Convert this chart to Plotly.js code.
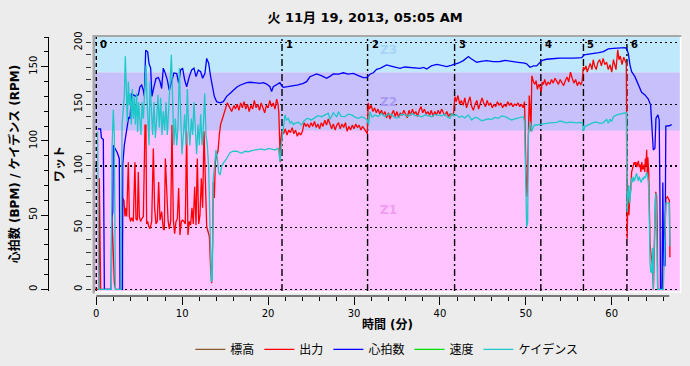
<!DOCTYPE html>
<html>
<head>
<meta charset="utf-8">
<script src="https://cdn.plot.ly/plotly-3.0.1.min.js"></script>
<style>html,body{margin:0;padding:0;background:#ececec;}#chart{width:690px;height:366px;}</style>
</head>
<body>
<div id="chart"></div>
<script>
// ---------- DATA ----------
const chartTitle = '火 11月 19, 2013, 05:05 AM';
const seriesNames = ['標高', '出力', '心拍数', '速度', 'ケイデンス'];
const seriesColors = ['#8b5a2b', '#ff0000', '#0000ff', '#00e000', '#1ec8c8'];

// Power (watts)
const powerTime = [0,0.3,0.35,0.45,0.51,1.75,1.79,1.98,2.1,2.25,3.0,3.07,3.22,3.34,3.46,3.54,3.73,3.85,4.0,4.12,4.31,4.5,4.62,4.78,4.89,5.01,5.16,5.28,5.48,5.67,5.78,5.86,5.98,6.1,6.25,6.45,6.64,6.79,6.95,7.1,7.26,7.42,7.61,7.8,7.92,8.04,8.19,8.35,8.5,8.66,8.81,8.97,9.12,9.28,9.43,9.59,9.74,9.9,10.05,10.21,10.36,10.52,10.67,10.83,10.98,11.14,11.29,11.45,11.61,11.76,11.92,12.07,12.23,12.38,12.54,12.69,12.85,13.0,13.16,13.31,13.43,13.55,13.62,13.74,13.86,14.01,14.17,14.32,14.48,14.63,14.79,15.02,15.25,15.48,15.76,16.03,16.2,16.4,16.6,16.8,17.0,17.2,17.4,17.6,17.8,18.0,18.2,18.4,18.6,18.8,19.0,19.2,19.4,19.6,19.8,20.0,20.2,20.4,20.6,20.8,21.0,21.15,21.25,21.35,21.42,21.5,21.6,21.8,22.0,22.2,22.4,22.6,22.8,23.0,23.2,23.4,23.6,23.8,24.0,24.2,24.4,24.6,24.8,25.0,25.2,25.4,25.6,25.8,26.0,26.2,26.4,26.6,26.8,27.0,27.2,27.4,27.6,27.8,28.0,28.2,28.4,28.6,28.8,29.0,29.2,29.4,29.6,29.8,30.0,30.2,30.4,30.6,30.8,31.0,31.2,31.4,31.55,31.65,31.8,32.0,32.2,32.4,32.6,32.8,33.0,33.2,33.4,33.6,33.8,34.0,34.2,34.4,34.6,34.8,35.0,35.2,35.4,35.6,35.8,36.0,36.2,36.4,36.6,36.8,37.0,37.2,37.4,37.6,37.8,38.0,38.2,38.4,38.6,38.8,39.0,39.2,39.4,39.6,39.8,40.0,40.2,40.4,40.6,40.8,41.0,41.2,41.4,41.6,41.75,41.9,42.1,42.3,42.5,42.7,42.9,43.1,43.3,43.5,43.7,43.9,44.1,44.3,44.5,44.7,44.9,45.1,45.3,45.5,45.7,45.9,46.1,46.3,46.5,46.7,46.9,47.1,47.3,47.5,47.7,47.9,48.1,48.3,48.5,48.7,48.9,49.1,49.3,49.5,49.7,49.85,49.95,50.05,50.15,50.22,50.3,50.4,50.5,50.6,50.7,50.8,50.9,51.05,51.2,51.35,51.5,51.65,51.8,51.9,52.05,52.2,52.4,52.6,52.8,53.0,53.2,53.4,53.6,53.8,54.0,54.2,54.4,54.6,54.8,55.0,55.2,55.4,55.6,55.8,56.0,56.2,56.4,56.55,56.7,56.85,57.0,57.15,57.3,57.5,57.7,57.85,58.0,58.2,58.4,58.6,58.8,59.0,59.2,59.4,59.6,59.8,60.0,60.2,60.35,60.5,60.7,60.85,61.0,61.2,61.4,61.55,61.7,61.75,61.8,61.9,62.0,62.1,62.2,62.32,62.45,62.52,62.62,62.71,62.82,62.91,63.0,63.1,63.2,63.3,63.4,63.5,63.61,63.7,63.76,63.85,63.92,64.0,64.07,64.14,64.2,64.31,64.38,64.46,64.55,64.65,64.77,64.85,64.95,65.04,65.12,65.23,65.31,65.35,65.93,66.01,66.1,66.2,66.32,66.48,66.6,66.71,66.78];
const powerWatts = [0,0,90,44,0,0,65,30,5,0,0,74,72,59,66,59,103,59,55,58,55,103,57,56,95,59,55,57,59,133,133,53,55,51,49,55,114,66,53,55,87,56,63,49,48,106,87,56,49,55,133,56,45,55,57,82,44,55,56,55,53,128,44,55,52,66,53,83,52,106,53,60,90,66,128,90,51,47,43,17,5,39,87,74,103,109,112,125,134,137,141,145,151,148,144,149,146,150,145,151,147,152,146,150,144,149,146,153,147,150,145,151,146,143,149,147,153,148,151,146,154,150,143,120,103,122,128,126,130,125,129,127,131,126,129,124,127,125,128,135,132,134,131,135,132,136,131,134,130,135,132,137,133,138,133,130,134,129,133,135,130,134,131,135,128,132,129,133,130,134,131,133,129,132,130,127,126,151,146,149,144,147,143,146,142,145,141,144,139,143,138,142,145,140,144,139,143,141,145,142,139,145,141,146,142,144,140,145,148,143,146,142,144,141,145,140,144,141,145,142,146,143,141,144,140,142,141,143,156,152,157,150,153,149,155,147,152,156,148,145,150,153,146,150,155,151,148,153,149,151,147,150,148,152,149,151,147,150,148,152,149,151,148,150,149,151,148,150,147,152,114,85,75,100,152,157,145,128,173,170,168,166,169,162,166,164,160,168,166,170,165,168,166,170,167,171,169,166,170,168,165,169,172,168,176,171,167,170,165,168,166,168,180,178,181,176,179,183,178,186,181,178,184,186,181,187,182,184,178,182,176,186,182,178,194,186,189,182,188,186,183,120,41,84,60,74,80,95,98,99,103,101,103,99,101,104,99,101,95,103,97,100,101,95,106,100,113,93,107,95,43,37,30,26,18,0,30,64,79,76,48,0,0,48,40,51,74,75,73,72,26];

// Heart rate (bpm)
const hrTime = [0.2,0.5,0.6,0.82,0.94,1.75,1.8,1.92,1.98,2.2,2.45,2.68,2.76,3.05,3.08,3.26,3.54,3.77,3.92,4.12,4.31,4.62,4.89,5.09,5.28,5.48,5.59,5.75,5.98,6.14,6.33,6.48,6.72,6.95,7.22,7.42,7.61,7.8,8.04,8.27,8.5,8.77,9.04,9.36,9.59,9.82,10.05,10.29,10.52,10.83,11.1,11.37,11.61,11.88,12.15,12.38,12.65,12.85,13.08,13.31,13.54,13.74,14.01,14.4,14.79,15.18,15.56,15.95,16.34,16.73,17.12,17.5,17.9,18.5,19.05,19.45,19.83,20.22,20.41,20.6,21.0,21.38,21.6,21.77,22.3,22.94,23.5,24.1,24.48,24.87,25.25,25.65,26.2,26.81,27.2,27.59,28.2,28.76,29.3,29.92,30.5,31.08,31.47,31.86,32.25,32.64,33.03,33.4,33.8,34.2,34.58,35.0,35.36,35.9,36.52,37.1,37.69,38.1,38.46,39.0,39.63,40.2,40.79,41.3,41.76,42.2,42.73,43.0,43.32,43.6,43.9,44.29,44.8,45.45,46.2,47.0,47.6,48.17,48.8,49.33,49.7,50.1,50.49,50.9,51.27,51.6,51.85,52.4,52.82,53.4,53.99,54.8,55.54,56.1,56.51,56.78,57.3,57.87,58.5,59.03,59.6,60.19,60.9,61.55,61.75,61.93,62.13,62.32,62.7,63.1,63.48,63.87,64.26,64.53,64.69,64.84,65.03,65.15,65.38,65.53,65.62,65.68,65.85,65.95,66.05,66.2,66.3,66.7,66.98];
const hrBpm = [108,108,102,101,0,0,48,52,97,95,92,88,0,0,84,97,106,116,115,132,131,130,131,136.5,137.6,134,130,161,160,152,149,130,136.5,142,142.7,140,135.3,149,145.5,141,134,140,145.8,145.4,139,147.8,149,141,136.5,143.3,147.8,149,143.3,147.8,146.6,142.2,145.5,155.6,152.3,143.3,135.3,130,126.4,125.7,126.4,130,132,134.2,136.1,137.5,138.3,139.3,139.5,139,138.8,139.3,138.3,136.5,133.2,136.5,138,139.2,137,136.1,136.5,137,137.8,138.8,139.9,143.2,144,145.1,144,142.2,143.5,145.1,145,145.9,145,145.5,144,142.6,142.6,144.9,145.9,148.2,148.9,150,151.2,150.6,150.1,149.5,148.9,149.8,149.6,149,148.9,149.5,148.4,150.5,151.6,150.8,150.1,150.8,151.6,152.5,154.1,155.5,156.8,155.5,154.6,153,153.6,154.1,153.4,153.5,154.2,153.9,153.2,152.8,152.5,151.9,149.6,150.5,150.5,152.5,154.1,155,155,155.5,155.7,155.5,155.7,156,156.1,157.9,158.2,158.6,159.4,160.2,162,162.4,162.5,162.9,162,159,151.1,146.6,143.3,137.7,132.7,131,128.2,124.1,110.7,93.9,95,115.2,117.5,114.1,60,0,0,72,16,16,110,110.2,111];

// Cadence (rpm)
const cadTime = [0.04,0.16,0.28,1.75,1.83,1.98,2.1,2.22,2.88,3.0,3.15,3.27,3.38,3.5,3.61,3.73,3.85,3.96,4.08,4.19,4.31,4.43,4.55,4.7,4.81,4.93,5.09,5.2,5.32,5.48,5.63,5.79,5.9,6.02,6.14,6.25,6.41,6.56,6.72,6.88,7.03,7.18,7.34,7.49,7.65,7.8,7.96,8.11,8.27,8.43,8.58,8.74,8.89,9.04,9.2,9.36,9.51,9.67,9.82,9.98,10.13,10.29,10.44,10.6,10.75,10.9,11.06,11.22,11.37,11.53,11.68,11.84,12.0,12.15,12.31,12.46,12.62,12.77,12.93,13.08,13.24,13.39,13.51,13.62,13.78,13.93,14.09,14.24,14.4,14.6,14.79,15.18,15.56,15.95,16.34,16.92,17.3,17.7,18.1,18.47,18.9,19.25,19.6,20.02,20.4,20.8,21.19,21.39,21.58,21.77,21.97,22.15,22.35,22.55,22.74,22.95,23.13,23.5,23.91,24.1,24.3,24.5,24.68,25.0,25.46,25.8,26.24,26.6,27.01,27.2,27.4,27.6,27.79,28.0,28.18,28.5,28.95,29.3,29.73,30.1,30.51,30.9,31.28,31.55,31.7,31.86,32.1,32.44,32.8,33.22,33.61,34.0,34.38,34.8,35.16,35.5,35.94,36.3,36.71,37.1,37.49,37.9,38.27,38.65,39.04,39.4,39.82,40.2,40.59,40.9,41.18,41.37,41.6,41.95,42.25,42.53,42.9,43.31,43.7,44.1,44.47,44.85,45.25,45.6,46.03,46.4,46.8,47.2,47.58,48.0,48.35,48.75,49.13,49.5,49.71,49.85,49.98,50.1,50.22,50.29,50.49,50.68,50.88,51.07,51.27,51.65,51.9,52.4,52.8,53.2,53.6,54.0,54.4,54.76,55.15,55.5,55.92,56.31,56.6,56.7,56.89,57.2,57.47,57.9,58.25,58.64,59.0,59.41,59.6,59.8,60.0,60.19,60.58,60.97,61.36,61.55,61.7,61.75,61.8,61.9,62.0,62.1,62.21,62.32,62.45,62.52,62.62,62.71,62.82,62.91,63.0,63.1,63.2,63.3,63.4,63.49,63.6,63.68,63.8,63.92,64.07,64.15,64.27,64.35,64.38,64.46,64.55,64.65,64.72,64.77,64.85,64.96,65.05,65.16,65.23,65.3,65.35,66.01,66.09,66.2,66.32,66.5,66.71,66.78];
const cadRpm = [106,106,0,0,95,121,104,0,0,111,122,131,157,138,113,140,124,132,111,135,115,130,111,132,106,126,111,104,126,115,133,151,129,113,97,140,118,104,126,102,115,131,109,129,104,120,107,126,104,118,138,158,126,97,115,97,109,149,118,91,104,118,97,135,109,97,115,104,126,104,91,111,97,118,97,109,132,104,97,82,46,5,7,75,84,94,88,79,77,83,85,88,92,93,93,91.6,93,92.7,93.5,93.8,94.2,94.6,93.8,95,94.5,93.9,95,86,99.5,110.7,117.5,114,115.2,112,113,111,111.8,112.5,110.7,113,114.1,115,115.2,114,115.7,117,116.3,117.5,118.6,114.5,116.3,119,117.5,116,119.7,116.5,116.3,118,117.5,116,115.2,116.3,115.2,114.1,111,119.7,116,117.5,116.5,118.6,116.3,118.2,117.5,115.5,115.7,118,117.5,116.5,118.6,117,117,116.2,117.5,116.8,116.3,117.8,117.5,116.9,118,116,115.2,118.6,117,117.5,115.8,116.8,115.5,117.5,114.1,116,115.2,113.6,114.1,114.8,114.5,115.8,115.2,116.8,116.3,115,114.1,114.8,115.2,115.6,116.3,113,81.5,42.2,45,104,113,106.3,109.6,110.7,110.7,111.2,111.5,111.8,112.2,112.2,112.5,113.4,112.5,112.2,112.6,112.2,112.1,112.5,112,106.6,109.7,110.6,111.2,112.5,112.7,111.8,112.2,114.5,111.8,114.6,113,116.3,117.5,118,118.6,119,119,80,52,62,70,58,66,75,72,76,73,74,77,78,75,73,76,74,72,73,75,74,76,75,79,77,72,60,35,18,12,11,20,28,0,53,58,65,40,10,0,0,13,42,58,58,58,29];

// Laps (minutes) and heart-rate zones (bpm)
const lapTimes = [0, 21.62, 31.58, 41.71, 51.75, 56.71, 61.77];
const lapLabels = ['0', '1', '2', '3', '4', '5', '6'];
const zoneNames = ['Z1', 'Z2', 'Z3'];
const zoneLow = [0, 107, 146];
const zoneHigh = [107, 146, 176];
const zoneFill = ['#ffc4ff', '#c8c0fa', '#c0e8fc'];
const zoneText = ['#f09cf0', '#a899f2', '#a6d4f5'];

// ---------- CHART ----------
const FONT = 'DejaVu Sans, Noto Sans CJK JP, sans-serif';
const LW = 1.3;
const traces = [
  {name: seriesNames[0], x: [null], y: [null], type: 'scatter', mode: 'lines', line: {color: seriesColors[0], width: LW}, yaxis: 'y'},
  {name: seriesNames[1], x: powerTime, y: powerWatts, type: 'scatter', mode: 'lines', line: {color: seriesColors[1], width: LW}, yaxis: 'y'},
  {name: seriesNames[2], x: hrTime, y: hrBpm, type: 'scatter', mode: 'lines', line: {color: seriesColors[2], width: LW}, yaxis: 'y2'},
  {name: seriesNames[3], x: [null], y: [null], type: 'scatter', mode: 'lines', line: {color: seriesColors[3], width: LW}, yaxis: 'y2'},
  {name: seriesNames[4], x: cadTime, y: cadRpm, type: 'scatter', mode: 'lines', line: {color: seriesColors[4], width: LW}, yaxis: 'y2'}
];

const shapes = [];
const annotations = [];
for (let i = 0; i < zoneNames.length; i++) {
  shapes.push({type: 'rect', xref: 'x domain', yref: 'y2', x0: 0, x1: 1, y0: zoneLow[i], y1: Math.min(zoneHigh[i], 170), fillcolor: zoneFill[i], line: {width: 0}, layer: 'below'});
  annotations.push({xref: 'x', yref: 'y2', x: 34, y: (zoneLow[i] + zoneHigh[i]) / 2, text: '<b>' + zoneNames[i] + '</b>', showarrow: false, font: {family: FONT, size: 12, color: zoneText[i]}});
}
for (let i = 0; i < lapTimes.length; i++) {
  shapes.push({type: 'line', xref: 'x', yref: 'y domain', x0: lapTimes[i], x1: lapTimes[i], y0: 0, y1: 1, line: {color: '#000', width: 1.4, dash: i === 0 ? '4px,3px' : '7px,3px,2px,3px'}, layer: 'below'});
  annotations.push({xref: 'x', yref: 'y domain', x: lapTimes[i], y: 0.972, xshift: 2, xanchor: 'left', yanchor: 'middle', text: '<b>' + lapLabels[i] + '</b>', showarrow: false, font: {family: FONT, size: 10, color: '#000'}});
}
// inset frame
shapes.push({type: 'line', xref: 'x domain', yref: 'y domain', x0: -0.0021, x1: -0.0021, y0: -0.01, y1: 1.008, line: {color: '#a8a8a8', width: 2.5}, layer: 'above'});
shapes.push({type: 'line', xref: 'x domain', yref: 'y domain', x0: -0.004, x1: 1.002, y0: 1.004, y1: 1.004, line: {color: '#a8a8a8', width: 2}, layer: 'above'});
shapes.push({type: 'line', xref: 'x domain', yref: 'y domain', x0: 1.001, x1: 1.001, y0: -0.006, y1: 1.0, line: {color: '#ffffff', width: 1.5}, layer: 'above'});
shapes.push({type: 'line', xref: 'x domain', yref: 'y domain', x0: 0, x1: 1.002, y0: -0.004, y1: -0.004, line: {color: '#ffffff', width: 1.5}, layer: 'above'});
// x axis baseline (ends at last sample)
shapes.push({type: 'line', xref: 'x', yref: 'paper', x0: 0, x1: 66.7, y0: 0, y1: 0, line: {color: '#000', width: 1}, layer: 'above'});

const layout = {
  width: 690, height: 366,
  paper_bgcolor: '#ececec', plot_bgcolor: '#ffc4ff',
  margin: {l: 30, r: 10, t: 37, b: 70, pad: 0, autoexpand: false},
  font: {family: FONT, size: 10, color: '#000'},
  title: {text: '<b>' + chartTitle + '</b>', font: {family: FONT, size: 13, color: '#000'}, x: 0.529, xref: 'container', xanchor: 'center', y: 0.951, yref: 'container', yanchor: 'middle'},
  showlegend: true,
  legend: {orientation: 'h', x: 0.549, xanchor: 'center', y: -0.15, yanchor: 'top', font: {family: FONT, size: 12}, bgcolor: 'rgba(0,0,0,0)', itemwidth: 30},
  xaxis: {
    domain: [0.1, 1], range: [-0.15, 67.95], anchor: 'free', position: 0,
    showline: false, zeroline: false, showgrid: false,
    ticks: 'outside', ticklen: 8, tickcolor: '#000', dtick: 10, tick0: 0,
    minor: {dtick: 2, ticklen: 4, ticks: 'outside', tickcolor: '#000', showgrid: false},
    tickfont: {family: FONT, size: 10},
    title: {text: '<b>時間 (分)</b>', font: {family: FONT, size: 12}, standoff: 2}
  },
  yaxis: {
    domain: [0.0193, 1], range: [-1.38, 204.4], anchor: 'free', position: 0.0938, side: 'left',
    showline: false, zeroline: false,
    showgrid: true, gridcolor: '#000', gridwidth: 1.3, griddash: '2px,3px',
    ticks: 'outside', ticklen: 5, tickcolor: '#333', dtick: 50, tick0: 0, tickangle: -90,
    minor: {dtick: 10, ticklen: 5, ticks: 'outside', tickcolor: '#333', showgrid: false},
    tickfont: {family: FONT, size: 10},
    title: {text: '<b>ワット</b>', font: {family: FONT, size: 12}, standoff: 4}
  },
  yaxis2: {
    overlaying: 'y', range: [-1.15, 170], anchor: 'free', position: 0.0277, side: 'left',
    showline: true, linecolor: '#000', linewidth: 1, zeroline: false, showgrid: false,
    ticks: 'outside', ticklen: 7, tickcolor: '#000', dtick: 50, tick0: 0, tickangle: -90,
    minor: {dtick: 10, ticklen: 4, ticks: 'outside', tickcolor: '#000', showgrid: false},
    tickfont: {family: FONT, size: 10},
    title: {text: '<b>心拍数 (BPM) / ケイデンス (RPM)</b>', font: {family: FONT, size: 12}, standoff: 4}
  },
  shapes: shapes,
  annotations: annotations
};

Plotly.newPlot('chart', traces, layout, {staticPlot: true, displayModeBar: false});
</script>
</body>
</html>
